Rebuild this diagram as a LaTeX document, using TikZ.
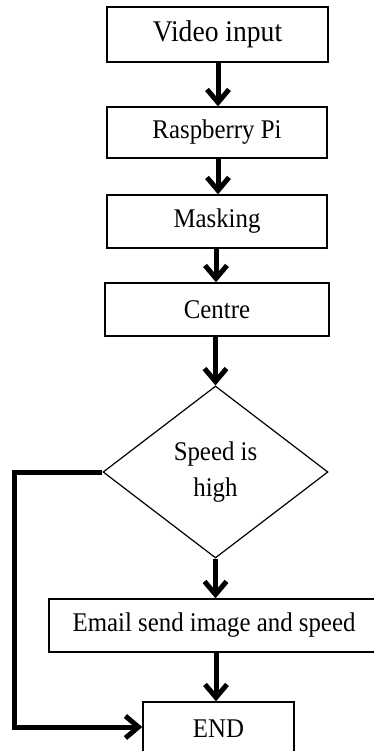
\documentclass[tikz,border=0pt]{standalone}
\usepackage{fontspec}
\setmainfont{Liberation Serif}[FakeStretch=0.92]
\usetikzlibrary{arrows.meta,shapes.geometric}

\begin{document}
\begin{tikzpicture}[x=1pt,y=-1pt,
  procbox/.style={draw,line width=1.4pt,inner sep=0pt,align=center,
    font=\fontsize{27}{30}\selectfont},
  decision/.style={draw,diamond,line width=1.2pt,inner sep=0pt,align=center,
    minimum width=225pt,minimum height=172pt,
    font=\fontsize{27}{36}\selectfont},
  flow/.style={line width=5pt,
    -{Straight Barb[length=13pt,width=22pt,line width=5pt]}},
  backline/.style={line width=5pt,line join=miter,
    -{Straight Barb[length=13pt,width=22pt,line width=5pt]}}]
  \useasboundingbox (0,0) rectangle (374,751);

  % process steps
  \node[procbox,minimum width=221pt,minimum height=55pt,
    font=\fontsize{30}{32}\selectfont] (video) at (217.5,34.5) {Video input};
  \node[procbox,minimum width=220pt,minimum height=51pt] (pi) at (217,132.5) {Raspberry Pi};
  \node[procbox,minimum width=220pt,minimum height=53pt] (mask) at (217,221.5) {Masking};
  \node[procbox,minimum width=224pt,minimum height=53pt] (centre) at (217,309.5) {Centre};

  % decision
  \node[decision] (speed) at (215.5,472) {Speed is\\high};

  % alert and end
  \node[procbox,minimum width=330pt,minimum height=53pt] (email) at (214,625.5)
    {Email send image and speed};
  \node[procbox,minimum width=151pt,minimum height=53pt] (end) at (218.5,728.5) {END};

  % main flow
  \draw[flow] (video.south -| 218,0) -- (pi.north -| 218,0);
  \draw[flow] (pi.south -| 218,0) -- (mask.north -| 218,0);
  \draw[flow] (mask.south -| 216,0) -- (centre.north -| 216,0);
  \draw[flow] (centre.south -| 215.5,0) -- (speed.north);
  \draw[flow] (speed.south) -- (email.north -| speed.south);
  \draw[flow] (email.south -| 216,0) -- (end.north -| 216,0);

  % bypass when speed is not high
  \coordinate (bendtop) at (14,472);
  \coordinate (bendbot) at (14,727);
  \draw[backline] (speed.west) -- (bendtop) -- (bendbot) -- (end.west |- bendbot);
\end{tikzpicture}
\end{document}
